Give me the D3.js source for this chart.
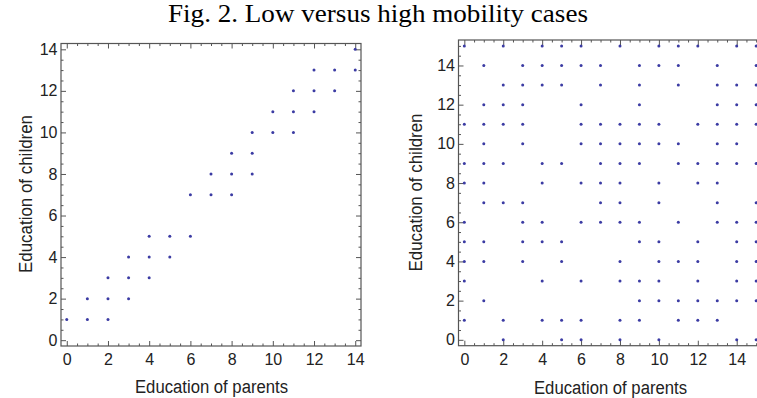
<!DOCTYPE html>
<html>
<head>
<meta charset="utf-8">
<script src="https://cdn.jsdelivr.net/npm/d3@7"></script>
<style>
  html, body { margin: 0; padding: 0; background: #fff; }
  svg { display: block; }
</style>
</head>
<body>
<svg id="chart" width="757" height="398"></svg>
<script>
// ---- data ----
const titleText = "Fig. 2. Low versus high mobility cases";
const xLabel = "Education of parents";
const yLabel = "Education of children";

// Left panel (low mobility): [parents, children]
const lowParents  = [0,1,1,2,2,2,3,3,3,4,4,4,5,5,6,6,7,7,8,8,8,9,9,9,10,10,11,11,11,12,12,12,13,13,14,14];
const lowChildren = [1,1,2,1,2,3,2,3,4,3,4,5,4,5,5,7,7,8,7,8,9,8,9,10,10,11,10,11,12,11,12,13,12,13,13,14];

// Right panel (high mobility): parents values present in each children row
const highRows = [
  {child: 15, parents: [0,2,4,5,6,8,10,11,12,14,15]},
  {child: 14, parents: [1,3,4,5,6,7,9,10,11,13,15]},
  {child: 13, parents: [2,3,4,5,7,9,11,13,14,15]},
  {child: 12, parents: [1,2,3,6,9,13,14,15]},
  {child: 11, parents: [0,1,2,3,6,7,8,9,10,12,13,14,15]},
  {child: 10, parents: [1,3,6,7,8,9,10,11,13,14]},
  {child: 9,  parents: [0,1,2,4,5,7,8,9,11,12,13,14,15]},
  {child: 8,  parents: [0,1,4,6,7,8,10,12,13]},
  {child: 7,  parents: [1,2,3,7,8,10,13,15]},
  {child: 6,  parents: [0,3,4,6,7,8,9,11,13,14,15]},
  {child: 5,  parents: [0,1,3,4,5,9,10,12,14,15]},
  {child: 4,  parents: [0,1,3,5,8,10,11,12,14,15]},
  {child: 3,  parents: [0,4,6,8,9,10,12,14,15]},
  {child: 2,  parents: [1,9,10,11,12,13,14,15]},
  {child: 1,  parents: [0,2,4,5,6,8,9,11,12,13]},
  {child: 0,  parents: [2,5,6,8,10,14,15]}
];

const lowTicks  = [0,2,4,6,8,10,12,14];
const highTicks = [0,2,4,6,8,10,12,14];

// ---- drawing ----
const svg = d3.select("#chart");
const frameColor = "#555";
const labelColor = "#222";
const pointColor = "#3b3ba3";

svg.append("text")
  .attr("x", 378).attr("y", 22)
  .attr("text-anchor", "middle")
  .attr("font-family", "'Liberation Serif', 'Times New Roman', serif")
  .attr("font-size", 25)
  .attr("textLength", 420).attr("lengthAdjust", "spacingAndGlyphs")
  .attr("fill", "#000")
  .text(titleText);

function panel(cfg) {
  const x = d3.scaleLinear().domain(cfg.xDomain).range([cfg.left, cfg.right]);
  const y = d3.scaleLinear().domain(cfg.yDomain).range([cfg.bottom, cfg.top]);
  const g = svg.append("g");

  const minor = [];
  for (let v = 0; v <= cfg.maxTick + 1e-9; v += 0.5) if (v % 2 !== 0) minor.push(v);

  const addAxis = (axisFn, scale, transform, showLabels) => {
    const gm = g.append("g").attr("transform", transform)
      .call(axisFn(scale).tickValues(minor).tickSize(-2.5).tickFormat(""));
    const gM = g.append("g").attr("transform", transform)
      .call(axisFn(scale).tickValues(cfg.ticks).tickSize(-5).tickPadding(showLabels ? 8 : 0)
        .tickFormat(showLabels ? d3.format("d") : ""));
    [gm, gM].forEach(a => {
      a.select(".domain").remove();
      a.selectAll("line").attr("stroke", frameColor).attr("stroke-width", 1);
      a.selectAll("text").attr("fill", labelColor)
        .attr("font-family", "'Liberation Sans', Arial, sans-serif")
        .attr("font-size", 16);
    });
    return gM;
  };
  const bx = addAxis(d3.axisBottom, x, `translate(0,${cfg.bottom})`, true);
  bx.selectAll("text").attr("dy", "0.71em").attr("y", 7.5);
  addAxis(d3.axisTop, x, `translate(0,${cfg.top})`, false);
  const ly = addAxis(d3.axisLeft, y, `translate(${cfg.left},0)`, true);
  ly.selectAll("text").attr("x", -3.5);
  addAxis(d3.axisRight, y, `translate(${cfg.right},0)`, false);

  // frame
  g.append("rect")
    .attr("x", cfg.left).attr("y", cfg.top)
    .attr("width", cfg.right - cfg.left).attr("height", cfg.bottom - cfg.top)
    .attr("fill", "none").attr("stroke", frameColor).attr("stroke-width", 1.2);

  // points
  g.append("g").selectAll("circle").data(cfg.points).join("circle")
    .attr("cx", d => x(d[0])).attr("cy", d => y(d[1]))
    .attr("r", 1.5).attr("fill", pointColor);

  // axis labels
  g.append("text")
    .attr("x", cfg.xLabelX).attr("y", cfg.xLabelY)
    .attr("text-anchor", "middle")
    .attr("font-family", "'Liberation Sans', Arial, sans-serif")
    .attr("font-size", 18)
    .attr("textLength", 153).attr("lengthAdjust", "spacingAndGlyphs")
    .attr("fill", labelColor)
    .text(xLabel);
  g.append("text")
    .attr("transform", `translate(${cfg.yLabelX},${cfg.yLabelY}) rotate(-90)`)
    .attr("text-anchor", "middle")
    .attr("font-family", "'Liberation Sans', Arial, sans-serif")
    .attr("font-size", 18)
    .attr("textLength", 158).attr("lengthAdjust", "spacingAndGlyphs")
    .attr("fill", labelColor)
    .text(yLabel);
}

const lowPoints = lowParents.map((p, i) => [p, lowChildren[i]]);
const highPoints = [];
highRows.forEach(r => r.parents.forEach(p => highPoints.push([p, r.child])));

panel({
  xDomain: [-0.28, 14.28], yDomain: [-0.28, 14.28],
  left: 61, right: 361, top: 43.5, bottom: 346,
  ticks: lowTicks, maxTick: 14.2, points: lowPoints,
  xLabelX: 211.5, xLabelY: 393, yLabelX: 32, yLabelY: 194
});
panel({
  xDomain: [-0.3, 15.3], yDomain: [-0.3, 15.3],
  left: 458.5, right: 762, top: 40, bottom: 345.7,
  ticks: highTicks, maxTick: 15, points: highPoints,
  xLabelX: 610.5, xLabelY: 394, yLabelX: 422, yLabelY: 192.5
});
</script>
</body>
</html>
